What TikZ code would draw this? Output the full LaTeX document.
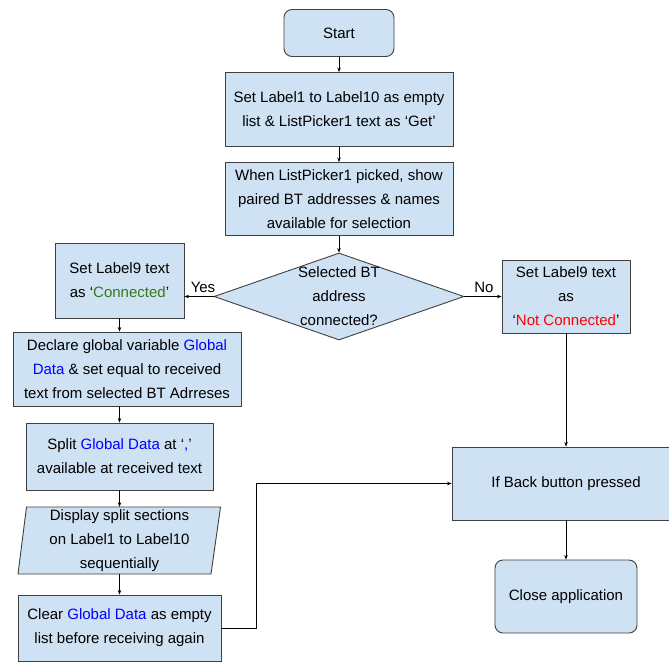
\documentclass[tikz,border=0pt]{standalone}
\usepackage{fontspec}
\setmainfont{Liberation Sans}
\usetikzlibrary{shapes.geometric,arrows.meta}
\definecolor{boxfill}{HTML}{CFE2F3}
\definecolor{boxline}{HTML}{404040}
\definecolor{gblue}{HTML}{0000FF}
\definecolor{ggreen}{HTML}{38761D}
\definecolor{gred}{HTML}{FF0000}
\tikzset{
 box/.style={draw=boxline, fill=boxfill, line width=0.9pt, align=center, inner sep=0pt, font=\fontsize{15}{24}\selectfont},
 rbox/.style={box, rounded corners=8pt},
 arr/.style={draw=black, line width=0.7pt, -{Stealth[length=4.5pt,width=3.5pt]}},
 lbl/.style={font=\fontsize{15}{24}\selectfont, inner sep=0pt, align=center},
}
\newcommand{\gd}[1]{\textcolor{gblue}{#1}}
\begin{document}
\begin{tikzpicture}[x=1pt,y=-1pt]
\useasboundingbox (0,0) rectangle (669,662);
\clip (0,0) rectangle (669,662);
\fill[white] (0,0) rectangle (669,662);
\node[rbox, minimum width=110pt, minimum height=47pt] (start) at (339,33) {Start};
\node[box, minimum width=228pt, minimum height=74pt] (set) at (339,109.5) {Set Label1 to Label10 as empty\\list \& ListPicker1 text as ‘Get’};
\node[box, minimum width=228pt, minimum height=73pt] (when) at (339,199) {When ListPicker1 picked, show\\paired BT addresses \& names\\available for selection};
\node[box, diamond, minimum width=250pt, minimum height=87pt] (dec) at (339,296.5) {};
\node[lbl] (dectxt) at (339,296.5) {Selected BT\\address\\connected?};
\node[box, minimum width=129pt, minimum height=75pt] (yes) at (119.5,280.5) {Set Label9 text\\as ‘\textcolor{ggreen}{Connected}’};
\node[box, minimum width=128pt, minimum height=73pt] (no) at (566,296.5) {Set Label9 text\\as\\‘\textcolor{gred}{Not Connected}’};
\node[box, minimum width=228pt, minimum height=74pt] (decl) at (127,369) {Declare global variable \gd{Global}\\\gd{Data} \& set equal to received\\text from selected BT Adrreses};
\node[box, minimum width=187pt, minimum height=67pt] (split) at (119.5,456.5) {Split \gd{Global Data} at ‘\gd{,}’\\available at received text};
\filldraw[draw=boxline, fill=boxfill, line width=0.9pt] (18,574) -- (26.5,507) -- (220.5,507) -- (211,574) -- cycle;
\node[lbl, minimum width=194pt, minimum height=67pt] (disp) at (119.5,540.5) {Display split sections\\on Label1 to Label10\\sequentially};
\node[box, minimum width=203pt, minimum height=66pt] (clear) at (119.5,628) {Clear \gd{Global Data} as empty\\list before receiving again};
\node[box, minimum width=228pt, minimum height=73pt] (back) at (566,483.5) {If Back button pressed};
\node[rbox, minimum width=142pt, minimum height=73pt] (close) at (566,596.5) {Close application};
\node[lbl] (yeslbl) at (203,287) {Yes};
\node[lbl] (nolbl) at (484,287) {No};
\draw[arr] (start.south) -- (set.north);
\draw[arr] (set.south) -- (when.north);
\draw[arr] (when.south) -- (dec.north);
\draw[arr] (dec.west) -- (dec.west -| yes.east);
\draw[arr] (dec.east) -- (no.west);
\draw[arr] (yes.south) -- (yes.south |- decl.north);
\draw[arr] (decl.south -| split.north) -- (split.north);
\draw[arr] (split.south) -- (disp.north);
\draw[arr] (disp.south) -- (clear.north);
\draw[arr] (clear.east) -- ++(35,0) |- (back.west);
\draw[arr] (no.south) -- (back.north);
\draw[arr] (back.south) -- (close.north);
\end{tikzpicture}
\end{document}
